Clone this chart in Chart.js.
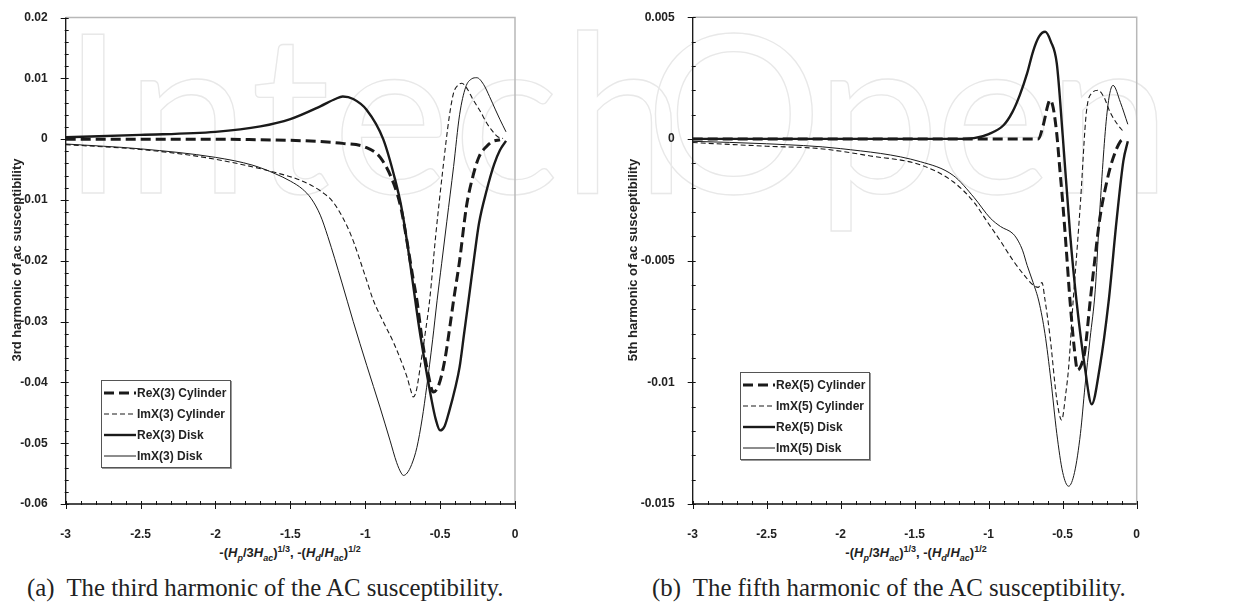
<!DOCTYPE html>
<html>
<head>
<meta charset="utf-8">
<script src="https://cdn.jsdelivr.net/npm/chart.js@4.4.1/dist/chart.umd.min.js"></script>
<style>
  html, body { margin:0; padding:0; background:#fff; }
  body { position:relative; width:1239px; height:612px; overflow:hidden;
         font-family:"Liberation Sans", Arial, sans-serif; color:#222; }
  canvas { position:absolute; top:0; z-index:1; }
  #c3 { left:0; }
  #c5 { left:620px; }
  .mark { position:absolute; top:-4px; z-index:0; font-family:Lato, sans-serif;
          font-size:222px; line-height:1; color:transparent; -webkit-text-stroke:1.3px #e8e8e8;
          white-space:nowrap; }
  .ytitle { position:absolute; width:300px; text-align:center; font-weight:bold; font-size:13px;
            transform:rotate(-90deg); white-space:nowrap; z-index:2; line-height:14px; }
  .xtitle { position:absolute; width:300px; text-align:center; font-weight:bold; font-size:13px;
            white-space:nowrap; z-index:2; line-height:14px; }
  .xtitle sub, .xtitle sup { font-size:9px; line-height:0; }
  .legend { position:absolute; z-index:2; background:#fff; border:1px solid #555;
            box-shadow:1px 1px 0 #999; padding:1px 4px 1px 2px; }
  .legend .row { display:flex; align-items:center; height:21px; font-weight:bold; font-size:12px; white-space:nowrap; }
  .legend svg { width:32px; height:10px; margin-right:1px; }
  .caption { position:absolute; z-index:2; font-family:"Liberation Serif", serif; font-size:24.8px;
             white-space:nowrap; color:#222; line-height:1; }
</style>
</head>
<body>
<div class="mark" style="left:62px; letter-spacing:3px;">Intech</div>
<div class="mark" style="left:645px; letter-spacing:-5px;">Open</div>
<canvas id="c3" width="560" height="540"></canvas>
<canvas id="c5" width="580" height="540"></canvas>

<div class="ytitle" style="left:-133px; top:253px;">3rd harmonic of ac susceptibility</div>
<div class="ytitle" style="left:483px; top:253px;">5th harmonic of ac susceptibility</div>

<div class="xtitle" style="left:140px; top:546px;">-(<i>H</i><sub><i>p</i></sub>/3<i>H</i><sub><i>ac</i></sub>)<sup>1/3</sup>, -(<i>H</i><sub><i>d</i></sub>/<i>H</i><sub><i>ac</i></sub>)<sup>1/2</sup></div>
<div class="xtitle" style="left:766px; top:546px;">-(<i>H</i><sub><i>p</i></sub>/3<i>H</i><sub><i>ac</i></sub>)<sup>1/3</sup>, -(<i>H</i><sub><i>d</i></sub>/<i>H</i><sub><i>ac</i></sub>)<sup>1/2</sup></div>

<div class="legend" id="leg3" style="left:101px; top:380px;"></div>
<div class="legend" id="leg5" style="left:740px; top:372px;"></div>

<div class="caption" style="left:27px; top:576px;">(a)&nbsp; The third harmonic of the AC susceptibility.</div>
<div class="caption" style="left:652px; top:576px;">(b)&nbsp; The fifth harmonic of the AC susceptibility.</div>

<script>
// ====== data: 3rd harmonic (left panel) ======
const h3ReCylX  = [-3, -2.5, -2, -1.7, -1.5, -1.3, -1.15, -1.0, -0.9, -0.81, -0.76, -0.72, -0.68, -0.655, -0.62, -0.58, -0.545, -0.51, -0.47, -0.43, -0.41, -0.37, -0.325, -0.28, -0.24, -0.19, -0.15, -0.1];
const h3ReCylY  = [0, 0, 0, -0.0001, -0.0002, -0.0004, -0.0007, -0.0013, -0.003, -0.0073, -0.0115, -0.017, -0.023, -0.0265, -0.033, -0.0386, -0.0416, -0.0405, -0.0365, -0.03, -0.0265, -0.02, -0.0112, -0.006, -0.0029, -0.0012, -0.0004, -0.0001];

const h3ImCylX  = [-3, -2.5, -2.1, -1.8, -1.6, -1.44, -1.3, -1.21, -1.1, -1.0, -0.946, -0.88, -0.81, -0.76, -0.72, -0.69, -0.68, -0.66, -0.63, -0.6, -0.57, -0.53, -0.48, -0.44, -0.41, -0.38, -0.355, -0.32, -0.28, -0.23, -0.19, -0.15, -0.115, -0.08];
const h3ImCylY  = [-0.0009, -0.0017, -0.0029, -0.0043, -0.0055, -0.0067, -0.0085, -0.0105, -0.0155, -0.0225, -0.0265, -0.03, -0.0335, -0.0365, -0.0392, -0.0418, -0.0424, -0.0415, -0.037, -0.032, -0.0265, -0.016, -0.0046, 0.0035, 0.0076, 0.0089, 0.0092, 0.0083, 0.0065, 0.0045, 0.0027, 0.0013, 0.0004, 0.0001];

const h3ReDiskX = [-3, -2.5, -2, -1.7, -1.5, -1.3, -1.2, -1.15, -1.08, -0.99, -0.88, -0.8, -0.76, -0.72, -0.68, -0.64, -0.6, -0.56, -0.53, -0.5, -0.47, -0.44, -0.4, -0.37, -0.34, -0.31, -0.27, -0.24, -0.19, -0.14, -0.1, -0.06];
const h3ReDiskY = [0.0003, 0.0007, 0.0012, 0.0021, 0.0033, 0.0054, 0.0066, 0.007, 0.0066, 0.0048, 0, -0.0067, -0.011, -0.017, -0.024, -0.031, -0.037, -0.0425, -0.046, -0.0479, -0.0472, -0.0448, -0.041, -0.0375, -0.032, -0.0265, -0.019, -0.0138, -0.0085, -0.0042, -0.0018, -0.0003];

const h3ImDiskX = [-3, -2.5, -2, -1.75, -1.6, -1.5, -1.42, -1.36, -1.3, -1.25, -1.157, -1.08, -0.99, -0.9, -0.835, -0.79, -0.76, -0.745, -0.72, -0.69, -0.655, -0.62, -0.59, -0.55, -0.52, -0.49, -0.455, -0.41, -0.37, -0.33, -0.29, -0.255, -0.21, -0.17, -0.13, -0.1, -0.06];
const h3ImDiskY = [-0.0008, -0.0016, -0.003, -0.0043, -0.0057, -0.0069, -0.0082, -0.0098, -0.0125, -0.016, -0.0235, -0.03, -0.0372, -0.0442, -0.0495, -0.0532, -0.0549, -0.0553, -0.0549, -0.0535, -0.0507, -0.046, -0.0408, -0.033, -0.0265, -0.0205, -0.0135, -0.0045, 0.004, 0.0085, 0.0099, 0.0101, 0.009, 0.007, 0.0048, 0.0032, 0.0012];

// ====== data: 5th harmonic (right panel) ======
const h5ReCylX  = [-3, -2, -1, -0.7, -0.665, -0.63, -0.6, -0.586, -0.565, -0.54, -0.52, -0.5, -0.475, -0.45, -0.42, -0.4, -0.375, -0.35, -0.315, -0.28, -0.25, -0.2, -0.16, -0.11, -0.08];
const h5ReCylY  = [0, 0, 0, 0, 0, 0.0006, 0.0014, 0.0016, 0.0013, 0.0002, -0.0012, -0.0026, -0.0046, -0.0067, -0.0087, -0.0095, -0.0093, -0.0087, -0.0067, -0.0048, -0.0033, -0.0017, -0.0008, -0.0001, 0];

const h5ImCylX  = [-3, -2.5, -2.14, -1.8, -1.46, -1.24, -1.1, -1.01, -0.92, -0.835, -0.76, -0.7, -0.665, -0.64, -0.62, -0.586, -0.54, -0.507, -0.48, -0.46, -0.43, -0.4, -0.38, -0.34, -0.3, -0.26, -0.22, -0.18, -0.13, -0.09];
const h5ImCylY  = [-0.00015, -0.0003, -0.0004, -0.0007, -0.00107, -0.00176, -0.0026, -0.0034, -0.0042, -0.005, -0.0056, -0.006, -0.0061, -0.0059, -0.0066, -0.0081, -0.0107, -0.01155, -0.0105, -0.0094, -0.0067, -0.0043, -0.0026, 0.0011, 0.0019, 0.002, 0.0017, 0.0011, 0.0006, 0.0003];

const h5ReDiskX = [-3, -2, -1.5, -1.2, -1.1, -1.0, -0.9, -0.84, -0.79, -0.74, -0.7, -0.66, -0.618, -0.58, -0.54, -0.5, -0.45, -0.406, -0.35, -0.304, -0.25, -0.19, -0.135, -0.09, -0.06];
const h5ReDiskY = [0, 0, 0, 0, 0.00003, 0.0002, 0.00056, 0.0011, 0.0018, 0.0027, 0.0036, 0.0042, 0.0044, 0.004, 0.0031, 0.00015, -0.0039, -0.0067, -0.0094, -0.0109, -0.0094, -0.0067, -0.0033, -0.0009, -0.0001];

const h5ImDiskX = [-3, -2.5, -2, -1.46, -1.24, -1.1, -0.99, -0.92, -0.835, -0.8, -0.77, -0.74, -0.7, -0.66, -0.62, -0.58, -0.54, -0.5, -0.46, -0.42, -0.38, -0.35, -0.315, -0.28, -0.25, -0.2, -0.16, -0.11, -0.06];
const h5ImDiskY = [-0.0001, -0.0002, -0.0004, -0.00094, -0.0015, -0.0024, -0.00325, -0.0036, -0.0039, -0.0042, -0.0046, -0.0052, -0.0059, -0.0067, -0.008, -0.0099, -0.0121, -0.0137, -0.01427, -0.0137, -0.0121, -0.0102, -0.0082, -0.0062, -0.003, 0.0011, 0.0022, 0.0015, 0.0006];

// ====== ticks / labels ======
const xTicks   = [-3, -2.5, -2, -1.5, -1, -0.5, 0];
const h3YTicks = [0.02, 0.01, 0, -0.01, -0.02, -0.03, -0.04, -0.05, -0.06];
const h5YTicks = [0.005, 0, -0.005, -0.01, -0.015];
const h3Labels = ["ReX(3) Cylinder", "ImX(3) Cylinder", "ReX(3) Disk", "ImX(3) Disk"];
const h5Labels = ["ReX(5) Cylinder", "ImX(5) Cylinder", "ReX(5) Disk", "ImX(5) Disk"];

// line styles: thick dashed, thin dashed, thick solid, thin solid
const STYLES = [
  { width: 3,   dash: [10, 5] },
  { width: 1.1, dash: [5, 3] },
  { width: 2.4, dash: [] },
  { width: 1,   dash: [] }
];
const INK = "#1a1a1a";

const fmt = v => String(+v.toFixed(4));
const pts = (xs, ys) => xs.map((x, i) => ({ x, y: ys[i] }));

function steps(min, max, step) {
  const out = [];
  const n = Math.round((max - min) / step);
  for (let i = 0; i <= n; i++) out.push(min + i * step);
  return out;
}

// frame + major/minor tick marks, all placed via the scales
const axisFrame = {
  id: "axisFrame",
  beforeDatasetsDraw(chart, args, opt) {
    const { ctx, chartArea: a, scales: { x, y } } = chart;
    ctx.save();
    ctx.lineWidth = 1.5; ctx.strokeStyle = "#b8b8b8";
    ctx.beginPath(); ctx.moveTo(a.left, a.top); ctx.lineTo(a.right, a.top); ctx.lineTo(a.right, a.bottom); ctx.stroke();
    ctx.lineWidth = 1.3; ctx.strokeStyle = "#111";
    ctx.beginPath(); ctx.moveTo(a.left, a.top); ctx.lineTo(a.left, a.bottom); ctx.lineTo(a.right, a.bottom); ctx.stroke();
    ctx.lineWidth = 1;
    ctx.beginPath();
    const isMajor = (sc, v) => sc.ticks.some(t => Math.abs(t.value - v) < 1e-9);
    steps(x.min, x.max, opt.xMinor).forEach(v => {
      const p = Math.round(x.getPixelForValue(v)) + 0.5, mj = isMajor(x, v);
      ctx.moveTo(p, a.bottom + (mj ? 5 : 1)); ctx.lineTo(p, a.bottom - 3);
    });
    steps(y.min, y.max, opt.yMinor).forEach(v => {
      const p = Math.round(y.getPixelForValue(v)) + 0.5, mj = isMajor(y, v);
      ctx.moveTo(a.left - (mj ? 5 : 1), p); ctx.lineTo(a.left + 3, p);
    });
    ctx.stroke();
    ctx.restore();
  }
};

function drawChart(id, series, yTicks, yMinor, yWidth, padRight) {
  const datasets = series.map((s, i) => ({
    data: pts(s[0], s[1]),
    borderColor: INK, borderWidth: STYLES[i].width, borderDash: STYLES[i].dash,
    pointRadius: 0, fill: false, cubicInterpolationMode: "monotone"
  }));
  const tickFont = { family: "Liberation Sans", weight: "bold", size: 12 };
  return new Chart(document.getElementById(id), {
    type: "line",
    data: { datasets },
    plugins: [axisFrame],
    options: {
      responsive: false, animation: false,
      layout: { padding: { top: id === "c3" ? 17.5 : 15.3, right: padRight, left: 0, bottom: 0 } },
      plugins: { legend: { display: false }, tooltip: { enabled: false },
                 axisFrame: { xMinor: 0.1, yMinor } },
      scales: {
        x: {
          type: "linear", min: xTicks[0], max: xTicks[xTicks.length - 1],
          afterBuildTicks: s => { s.ticks = xTicks.map(v => ({ value: v })); },
          afterFit: s => { s.height = 36; },
          grid: { display: false }, border: { display: false },
          ticks: { font: tickFont, color: "#222", padding: 15, maxRotation: 0, autoSkip: false, callback: fmt }
        },
        y: {
          type: "linear", min: yTicks[yTicks.length - 1], max: yTicks[0],
          afterBuildTicks: s => { s.ticks = yTicks.slice().reverse().map(v => ({ value: v })); },
          afterFit: s => { s.width = yWidth; },
          grid: { display: false }, border: { display: false },
          ticks: { font: tickFont, color: "#222", padding: 10, autoSkip: false, callback: fmt }
        }
      }
    }
  });
}

function buildLegend(elId, labels) {
  const el = document.getElementById(elId);
  el.innerHTML = labels.map((lab, i) => {
    const st = STYLES[i];
    return `<div class="row"><svg viewBox="0 0 32 10"><line x1="0" y1="5" x2="32" y2="5" stroke="${INK}"
      stroke-width="${st.width}" stroke-dasharray="${st.dash.join(",") || "none"}"/></svg>${lab}</div>`;
  }).join("");
}

drawChart("c3", [[h3ReCylX, h3ReCylY], [h3ImCylX, h3ImCylY], [h3ReDiskX, h3ReDiskY], [h3ImDiskX, h3ImDiskY]],
          h3YTicks, 0.002, 65.7, 45);
drawChart("c5", [[h5ReCylX, h5ReCylY], [h5ImCylX, h5ImCylY], [h5ReDiskX, h5ReDiskY], [h5ImDiskX, h5ImDiskY]],
          h5YTicks, 0.001, 72.7, 63.3);
buildLegend("leg3", h3Labels);
buildLegend("leg5", h5Labels);
</script>
</body>
</html>
